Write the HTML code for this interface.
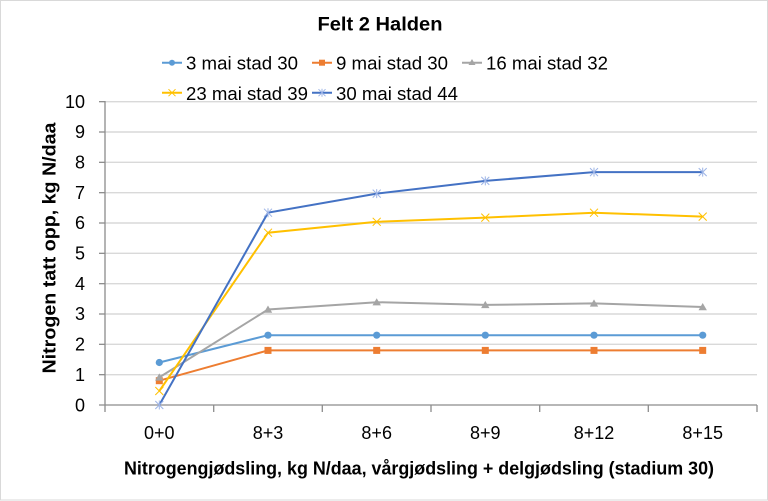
<!DOCTYPE html>
<html><head><meta charset="utf-8"><style>
html,body{margin:0;padding:0;background:#fff;}
svg{display:block;}
text{font-family:"Liberation Sans",Arial,sans-serif;fill:#000;}
</style></head><body>
<svg width="768" height="501" viewBox="0 0 768 501" xmlns="http://www.w3.org/2000/svg">
<rect x="0.5" y="0.5" width="767" height="499.5" fill="#fff" stroke="#d9d9d9" stroke-width="1"/>
<!-- title -->
<text x="380" y="30.5" font-size="19.5" font-weight="bold" text-anchor="middle" textLength="125" lengthAdjust="spacingAndGlyphs">Felt 2 Halden</text>
<!-- gridlines -->
<g stroke="#d9d9d9" stroke-width="1.4">
<line x1="105" y1="374.67" x2="757" y2="374.67"/>
<line x1="105" y1="344.33" x2="757" y2="344.33"/>
<line x1="105" y1="314" x2="757" y2="314"/>
<line x1="105" y1="283.67" x2="757" y2="283.67"/>
<line x1="105" y1="253.33" x2="757" y2="253.33"/>
<line x1="105" y1="223" x2="757" y2="223"/>
<line x1="105" y1="192.67" x2="757" y2="192.67"/>
<line x1="105" y1="162.33" x2="757" y2="162.33"/>
<line x1="105" y1="132" x2="757" y2="132"/>
<line x1="105" y1="101.67" x2="757" y2="101.67"/>
</g>
<!-- axes -->
<g stroke="#8c8c8c" stroke-width="1.3">
<line x1="105" y1="101" x2="105" y2="405"/>
<line x1="99" y1="405" x2="757" y2="405"/>
<line x1="99" y1="374.67" x2="105" y2="374.67"/>
<line x1="99" y1="344.33" x2="105" y2="344.33"/>
<line x1="99" y1="314" x2="105" y2="314"/>
<line x1="99" y1="283.67" x2="105" y2="283.67"/>
<line x1="99" y1="253.33" x2="105" y2="253.33"/>
<line x1="99" y1="223" x2="105" y2="223"/>
<line x1="99" y1="192.67" x2="105" y2="192.67"/>
<line x1="99" y1="162.33" x2="105" y2="162.33"/>
<line x1="99" y1="132" x2="105" y2="132"/>
<line x1="99" y1="101.67" x2="105" y2="101.67"/>
<line x1="105" y1="405" x2="105" y2="412"/>
<line x1="213.7" y1="405" x2="213.7" y2="412"/>
<line x1="322.3" y1="405" x2="322.3" y2="412"/>
<line x1="431" y1="405" x2="431" y2="412"/>
<line x1="539.7" y1="405" x2="539.7" y2="412"/>
<line x1="648.3" y1="405" x2="648.3" y2="412"/>
<line x1="757" y1="405" x2="757" y2="412"/>
</g>
<!-- y tick labels -->
<g font-size="18" text-anchor="end">
<text x="85" y="411.5">0</text>
<text x="85" y="381">1</text>
<text x="85" y="350.5">2</text>
<text x="85" y="320">3</text>
<text x="85" y="290">4</text>
<text x="85" y="259.5">5</text>
<text x="85" y="229">6</text>
<text x="85" y="199">7</text>
<text x="85" y="168.5">8</text>
<text x="85" y="138">9</text>
<text x="85" y="108">10</text>
</g>
<!-- x tick labels -->
<g font-size="18" text-anchor="middle">
<text x="159.3" y="439">0+0</text>
<text x="268" y="439">8+3</text>
<text x="376.7" y="439">8+6</text>
<text x="485.3" y="439">8+9</text>
<text x="594" y="439">8+12</text>
<text x="702.7" y="439">8+15</text>
</g>
<!-- axis titles -->
<text x="419" y="474.5" font-size="18" font-weight="bold" text-anchor="middle" textLength="590" lengthAdjust="spacingAndGlyphs">Nitrogengjødsling, kg N/daa, vårgjødsling + delgjødsling (stadium 30)</text>
<text transform="translate(55.5,248) rotate(-90)" font-size="18" font-weight="bold" text-anchor="middle" textLength="251" lengthAdjust="spacingAndGlyphs">Nitrogen tatt opp, kg N/daa</text>

<!-- series 1: 3 mai -->
<polyline fill="none" stroke="#5B9BD5" stroke-width="2" points="159.3,362.5 268,335.2 376.7,335.2 485.3,335.2 594,335.2 702.7,335.2"/>
<g fill="#5B9BD5">
<circle cx="159.3" cy="362.5" r="3.6"/><circle cx="268" cy="335.2" r="3.6"/><circle cx="376.7" cy="335.2" r="3.6"/><circle cx="485.3" cy="335.2" r="3.6"/><circle cx="594" cy="335.2" r="3.6"/><circle cx="702.7" cy="335.2" r="3.6"/>
</g>
<!-- series 2: 9 mai -->
<polyline fill="none" stroke="#ED7D31" stroke-width="2" points="159.3,380.7 268,350.4 376.7,350.4 485.3,350.4 594,350.4 702.7,350.4"/>
<g fill="#ED7D31">
<rect x="155.8" y="377.2" width="7" height="7"/><rect x="264.5" y="346.9" width="7" height="7"/><rect x="373.2" y="346.9" width="7" height="7"/><rect x="481.8" y="346.9" width="7" height="7"/><rect x="590.5" y="346.9" width="7" height="7"/><rect x="699.2" y="346.9" width="7" height="7"/>
</g>
<!-- series 3: 16 mai -->
<polyline fill="none" stroke="#A5A5A5" stroke-width="2" points="159.3,377.4 268,309.5 376.7,302.2 485.3,304.9 594,303.4 702.7,307"/>
<g fill="#A5A5A5">
<polygon points="159.3,373.4 163.5,380.6 155.1,380.6"/>
<polygon points="268,305.5 272.2,312.7 263.8,312.7"/>
<polygon points="376.7,298.2 380.9,305.4 372.5,305.4"/>
<polygon points="485.3,300.9 489.5,308.1 481.1,308.1"/>
<polygon points="594,299.4 598.2,306.6 589.8,306.6"/>
<polygon points="702.7,303 706.9,310.2 698.5,310.2"/>
</g>
<!-- series 4: 23 mai -->
<polyline fill="none" stroke="#FFC000" stroke-width="2" points="159.3,391 268,232.7 376.7,221.8 485.3,217.6 594,212.7 702.7,216.6"/>
<g stroke="#FFC000" stroke-width="1">
<path d="M155.3,387 l8,8 M163.3,387 l-8,8"/>
<path d="M264,228.7 l8,8 M272,228.7 l-8,8"/>
<path d="M372.7,217.8 l8,8 M380.7,217.8 l-8,8"/>
<path d="M481.3,213.6 l8,8 M489.3,213.6 l-8,8"/>
<path d="M590,208.7 l8,8 M598,208.7 l-8,8"/>
<path d="M698.7,212.6 l8,8 M706.7,212.6 l-8,8"/>
</g>
<!-- series 5: 30 mai -->
<polyline fill="none" stroke="#4472C4" stroke-width="2" points="159.3,405 268,212.7 376.7,193.6 485.3,180.9 594,172.1 702.7,172.1"/>
<g stroke="#9DB4E6" stroke-width="1">
<path d="M155.3,401 l8,8 M163.3,401 l-8,8 M159.3,400.5 v9"/>
<path d="M264,208.7 l8,8 M272,208.7 l-8,8 M268,208.2 v9"/>
<path d="M372.7,189.6 l8,8 M380.7,189.6 l-8,8 M376.7,189.1 v9"/>
<path d="M481.3,176.9 l8,8 M489.3,176.9 l-8,8 M485.3,176.4 v9"/>
<path d="M590,168.1 l8,8 M598,168.1 l-8,8 M594,167.6 v9"/>
<path d="M698.7,168.1 l8,8 M706.7,168.1 l-8,8 M702.7,167.6 v9"/>
</g>

<!-- legend -->
<g>
<line x1="162" y1="62.7" x2="182" y2="62.7" stroke="#5B9BD5" stroke-width="2"/>
<circle cx="172" cy="62.7" r="3" fill="#5B9BD5"/>
<text x="186" y="69.3" font-size="18" textLength="112" lengthAdjust="spacingAndGlyphs">3 mai stad 30</text>

<line x1="312" y1="62.7" x2="332" y2="62.7" stroke="#ED7D31" stroke-width="2"/>
<rect x="319" y="59.7" width="6" height="6" fill="#ED7D31"/>
<text x="336" y="69.3" font-size="18" textLength="112" lengthAdjust="spacingAndGlyphs">9 mai stad 30</text>

<line x1="462" y1="62.7" x2="482" y2="62.7" stroke="#A5A5A5" stroke-width="2"/>
<polygon points="472,59 475.5,65 468.5,65" fill="#A5A5A5"/>
<text x="486" y="69.3" font-size="18" textLength="122" lengthAdjust="spacingAndGlyphs">16 mai stad 32</text>

<line x1="162" y1="92.7" x2="182" y2="92.7" stroke="#FFC000" stroke-width="2"/>
<path d="M168.5,89.2 l7,7 M175.5,89.2 l-7,7" stroke="#FFC000" stroke-width="1"/>
<text x="186" y="100" font-size="18" textLength="122" lengthAdjust="spacingAndGlyphs">23 mai stad 39</text>

<line x1="312" y1="92.7" x2="332" y2="92.7" stroke="#4472C4" stroke-width="2"/>
<path d="M318.5,89.2 l7,7 M325.5,89.2 l-7,7 M322,88.7 v8" stroke="#9DB4E6" stroke-width="1"/>
<text x="336" y="100" font-size="18" textLength="122" lengthAdjust="spacingAndGlyphs">30 mai stad 44</text>
</g>
</svg>
</body></html>
